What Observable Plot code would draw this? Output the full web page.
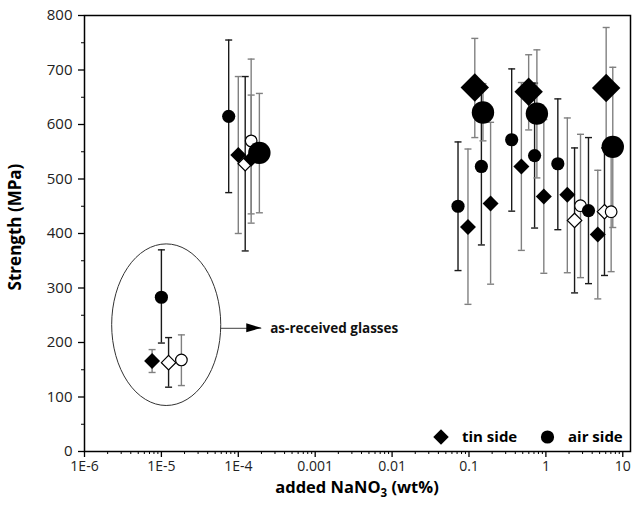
<!DOCTYPE html>
<html><head><meta charset="utf-8">
<script src="https://cdn.jsdelivr.net/npm/d3@7"></script>
<script src="https://cdn.jsdelivr.net/npm/@observablehq/plot@0.6"></script>
<style>body{margin:0;background:#fff;}</style>
</head><body><div id="chart"></div>
<script>
// ---- data ----
// small filled circles (air side)
const airX  = [7.5e-5, 1e-5, 0.072, 0.145, 0.359, 0.713, 1.43, 3.58];
const airY  = [615, 283, 450, 523, 572, 543, 528, 442];
const airLo = [475, 199, 332, 379, 441, 410, 407, 308];
const airHi = [755, 370, 568, 667, 702, 676, 647, 576];
// small filled diamonds (tin side)
const tinX  = [1e-4, 1.47e-4, 7.57e-6, 0.097, 0.191, 0.48, 0.94, 1.9, 4.73];
const tinY  = [544, 537, 166, 412, 455, 523, 468, 471, 398];
const tinLo = [400, 419, 145, 270, 307, 369, 327, 328, 280];
const tinHi = [688, 654, 187, 555, 604, 677, 609, 612, 516];
// large filled diamonds (tin side)
const tinBigX  = [0.119, 0.597, 6.08];
const tinBigY  = [668, 660, 667];
const tinBigLo = [576, 590, 556];
const tinBigHi = [758, 728, 778];
// large filled circles (air side)
const airBigX  = [1.88e-4, 0.152, 0.764, 7.41];
const airBigY  = [548, 622, 620, 559];
const airBigLo = [438, 570, 502, 411];
const airBigHi = [657, 675, 737, 705];
// open diamonds (tin side)
const tinOpenX  = [1.23e-4, 1.24e-5, 2.36, 5.78];
const tinOpenY  = [528, 163, 424, 440];
const tinOpenLo = [368, 118, 291, 323];
const tinOpenHi = [688, 209, 557, 557];
// open circles (air side)
const airOpenX  = [1.47e-4, 1.82e-5, 2.82, 7.06];
const airOpenY  = [570, 168, 451, 440];
const airOpenLo = [436, 121, 319, 330];
const airOpenHi = [720, 214, 582, 550];

// axes
const xMajor = [1e-6, 1e-5, 1e-4, 1e-3, 1e-2, 1e-1, 1, 10];
const xLabels = ["1E-6", "1E-5", "1E-4", "0.001", "0.01", "0.1", "1", "10"];
const yMajor = [0, 100, 200, 300, 400, 500, 600, 700, 800];
const yMinor = [50, 150, 250, 350, 450, 550, 650, 750];
const xDomain = [1e-6, 12.6];
const yDomain = [0, 800];

// annotation
const ellipseX = [2.29e-6, 6.0e-5];
const ellipseY = [83.5, 380];
const arrowX = [6.0e-5, 2.02e-4];
const arrowY = 226;
const noteX = 2.6e-4;
const noteText = "as-received glasses";
const legendLabels = ["tin side", "air side"];

// ---- build ----
const rows = (xs, ys, lo, hi) => xs.map((x, i) => ({x, y: ys[i], lo: lo[i], hi: hi[i]}));
const air = rows(airX, airY, airLo, airHi);
const tin = rows(tinX, tinY, tinLo, tinHi);
const tinBig = rows(tinBigX, tinBigY, tinBigLo, tinBigHi);
const airBig = rows(airBigX, airBigY, airBigLo, airBigHi);
const tinOpen = rows(tinOpenX, tinOpenY, tinOpenLo, tinOpenHi);
const airOpen = rows(airOpenX, airOpenY, airOpenLo, airOpenHi);

const xMinor = [];
for (let e = -6; e <= 1; e++) for (let m = 2; m <= 9; m++) { const v = m * Math.pow(10, e); if (v <= xDomain[1]) xMinor.push(v); }

const cap = {draw(ctx) { ctx.moveTo(-3.5, 0); ctx.lineTo(3.5, 0); }};
const DARK = "#1a1a1a", GRAY = "#808080";
function bars(data, color) {
  return [
    Plot.ruleX(data, {x: "x", y1: "lo", y2: "hi", stroke: color, strokeWidth: 1.4}),
    Plot.dot(data, {x: "x", y: "lo", symbol: cap, r: 4, fill: "none", stroke: color, strokeWidth: 1.4}),
    Plot.dot(data, {x: "x", y: "hi", symbol: cap, r: 4, fill: "none", stroke: color, strokeWidth: 1.4})
  ];
}

const plot = Plot.plot({
  width: 634, height: 505,
  marginLeft: 84, marginRight: 4, marginTop: 15, marginBottom: 54,
  x: {type: "log", domain: xDomain},
  y: {domain: yDomain},
  style: {fontFamily: "'Open Sans', sans-serif", fontSize: "15px", color: "#222", background: "#fff"},
  marks: [
    Plot.axisX({ticks: xMinor, tickSize: 3, fill: "none", label: null, stroke: "#000"}),
    Plot.axisX({ticks: xMajor, tickSize: 6, tickPadding: 4, fontSize: 14, tickFormat: d => xLabels[xMajor.findIndex(v => Math.abs(v - d) / v < 1e-6)], label: null, stroke: "#000", strokeWidth: 1.3}),
    Plot.axisY({ticks: yMinor, tickSize: 3, fill: "none", label: null, stroke: "#000"}),
    Plot.axisY({ticks: yMajor, tickSize: 6, tickPadding: 6, label: null, stroke: "#000", strokeWidth: 1.3}),
    Plot.ruleY([arrowY], {x1: arrowX[0], x2: arrowX[1], stroke: "#666", strokeWidth: 1.2}),
    Plot.text([noteText], {x: noteX, y: arrowY, text: d => d, textAnchor: "start", fontWeight: "bold", fontSize: 13.5, fill: "#111"}),
    ...bars(tinOpen, DARK),
    ...bars(airOpen, GRAY),
    ...bars(tin, GRAY),
    ...bars(air, DARK),
    ...bars(tinBig, GRAY),
    ...bars(airBig, GRAY),
    Plot.dot(tinOpen, {x: "x", y: "y", symbol: "diamond2", r: 6.5, fill: "#fff", stroke: "#000", strokeWidth: 1.2}),
    Plot.dot(airOpen, {x: "x", y: "y", symbol: "circle", r: 5.8, fill: "#fff", stroke: "#000", strokeWidth: 1.2}),
    Plot.dot(tin, {x: "x", y: "y", symbol: "diamond2", r: 7.2, fill: "#000"}),
    Plot.dot(air, {x: "x", y: "y", symbol: "circle", r: 6.6, fill: "#000"}),
    Plot.dot(tinBig, {x: "x", y: "y", symbol: "diamond2", r: 12.8, fill: "#000"}),
    Plot.dot(airBig, {x: "x", y: "y", symbol: "circle", r: 11.2, fill: "#000"}),
    Plot.frame({stroke: "#000", strokeWidth: 1.5})
  ]
});

const svg = d3.select(plot);
const sx = plot.scale("x"), sy = plot.scale("y");
// ellipse around as-received glasses
const ex0 = sx.apply(ellipseX[0]), ex1 = sx.apply(ellipseX[1]);
const ey0 = sy.apply(ellipseY[0]), ey1 = sy.apply(ellipseY[1]);
svg.append("ellipse")
  .attr("cx", (ex0 + ex1) / 2).attr("cy", (ey0 + ey1) / 2)
  .attr("rx", Math.abs(ex1 - ex0) / 2).attr("ry", Math.abs(ey1 - ey0) / 2)
  .attr("fill", "none").attr("stroke", "#333").attr("stroke-width", 1);
// arrow head
const ax = sx.apply(arrowX[1]), ay = sy.apply(arrowY);
svg.append("path").attr("d", `M${ax},${ay} L${ax - 15},${ay - 4.5} L${ax - 15},${ay + 4.5} Z`).attr("fill", "#000");

// legend
const lg = svg.append("g").attr("font-family", "'Open Sans', sans-serif").attr("font-weight", "bold")
  .attr("font-size", 15).attr("fill", "#000").attr("text-anchor", "start");
lg.append("path").attr("transform", "translate(441,437)").attr("d", d3.symbol(d3.symbolDiamond2, Math.PI * 7 * 7)());
lg.append("text").attr("x", 462).attr("y", 437).attr("dy", "0.35em").text(legendLabels[0]);
lg.append("circle").attr("cx", 547.5).attr("cy", 437).attr("r", 6.6);
lg.append("text").attr("x", 568).attr("y", 437).attr("dy", "0.35em").text(legendLabels[1]);

// axis titles
const xt = svg.append("text").attr("x", 357).attr("y", 493).attr("text-anchor", "middle")
  .attr("font-family", "'Open Sans', sans-serif").attr("font-weight", "bold").attr("font-size", 16.5).attr("fill", "#000");
xt.append("tspan").text("added NaNO");
xt.append("tspan").attr("font-size", 11.5).attr("dy", 4).text("3");
xt.append("tspan").attr("dy", -4).text(" (wt%)");
svg.append("text").attr("transform", "translate(21,227) rotate(-90)").attr("text-anchor", "middle")
  .attr("font-family", "'Open Sans', sans-serif").attr("font-weight", "bold").attr("font-size", 17).attr("fill", "#000")
  .text("Strength (MPa)");

document.getElementById("chart").appendChild(plot);
</script>
</body></html>
